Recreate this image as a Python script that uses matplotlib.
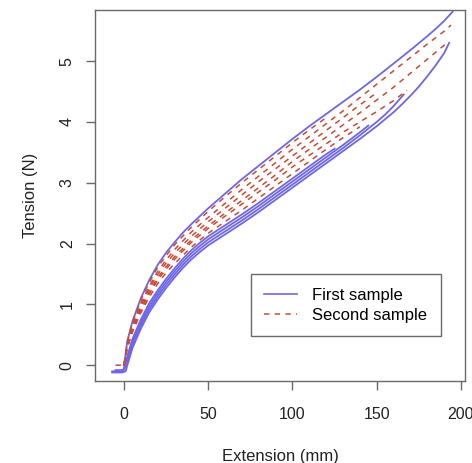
import matplotlib
matplotlib.use("Agg")
import matplotlib.pyplot as plt
from matplotlib.lines import Line2D

plt.rcParams['font.family'] = ['Liberation Sans', 'DejaVu Sans']

# ---- First sample (blue, solid) ----
b_up_x = [-7, -1, 0, 1, 2, 5, 10, 15, 20, 25, 30, 35, 40, 50, 60, 70, 80, 90, 100, 110, 120, 130, 140, 150, 160, 170, 180, 185, 190, 195]
b_up_y = [-0.1, -0.1, -0.05, 0.2, 0.4, 0.72, 1.1, 1.4, 1.65, 1.85, 2.02, 2.18, 2.32, 2.58, 2.82, 3.06, 3.28, 3.5, 3.72, 3.93, 4.13, 4.33, 4.53, 4.74, 4.96, 5.18, 5.41, 5.53, 5.66, 5.81]

b_lo1_x = [-7, -1, 1, 2, 5, 10, 15, 20, 25, 30, 35, 40, 45, 50, 60, 70, 80, 90, 100, 110, 120, 130, 140, 150, 160, 165, 170, 175, 180, 185, 190, 193]
b_lo1_y = [-0.12, -0.12, -0.1, 0.0, 0.28, 0.6, 0.87, 1.08, 1.27, 1.44, 1.6, 1.74, 1.86, 1.97, 2.15, 2.33, 2.52, 2.72, 2.92, 3.12, 3.32, 3.52, 3.72, 3.93, 4.16, 4.29, 4.43, 4.58, 4.75, 4.93, 5.13, 5.3]

b_lo2_x = [-5, 0, 2, 5, 10, 15, 20, 25, 30, 35, 40, 45, 50, 60, 70, 80, 90, 100, 110, 120, 130, 140, 150, 155, 160, 166]
b_lo2_y = [-0.08, -0.08, 0.05, 0.33, 0.65, 0.92, 1.13, 1.32, 1.49, 1.65, 1.79, 1.91, 2.02, 2.2, 2.38, 2.57, 2.77, 2.97, 3.17, 3.37, 3.57, 3.78, 4.0, 4.12, 4.26, 4.45]

b_lo3_x = [0, 2, 5, 10, 15, 20, 25, 30, 35, 40, 45, 50, 60, 70, 80, 90, 100, 110, 120, 130, 140, 145]
b_lo3_y = [0, 0.1, 0.38, 0.7, 0.97, 1.18, 1.37, 1.54, 1.7, 1.84, 1.96, 2.07, 2.25, 2.43, 2.62, 2.82, 3.02, 3.22, 3.42, 3.62, 3.83, 3.94]

b_lo4_x = [0, 2, 5, 10, 15, 20, 25, 30, 35, 40, 45, 50, 60, 70, 80, 90, 100, 110, 120, 125]
b_lo4_y = [0, 0.15, 0.43, 0.75, 1.02, 1.23, 1.42, 1.59, 1.75, 1.89, 2.01, 2.12, 2.3, 2.48, 2.67, 2.87, 3.07, 3.27, 3.47, 3.56]

# ---- Second sample (red, dashed) ----
r1_x = [-5, 0, 2, 5, 10, 15, 20, 25, 30, 40, 50, 60, 70, 80, 90, 100, 110, 120]
r1_y = [0, 0, 0.38, 0.7, 1.07, 1.36, 1.61, 1.8, 1.98, 2.27, 2.53, 2.77, 3.0, 3.22, 3.44, 3.66, 3.87, 4.07]

r2_x = [0, 2, 5, 10, 15, 20, 25, 30, 40, 50, 60, 70, 80, 90, 100, 110, 120, 130, 140, 150, 160, 170, 180, 190, 194]
r2_y = [0, 0.36, 0.66, 1.02, 1.3, 1.54, 1.73, 1.9, 2.19, 2.43, 2.66, 2.89, 3.11, 3.33, 3.55, 3.76, 3.97, 4.18, 4.4, 4.62, 4.84, 5.06, 5.28, 5.49, 5.59]

r3_x = [0, 2, 5, 10, 15, 20, 25, 30, 40, 50, 60, 70, 80, 90, 100, 110, 120, 130, 140, 150]
r3_y = [0, 0.34, 0.63, 0.98, 1.26, 1.49, 1.68, 1.84, 2.12, 2.36, 2.58, 2.8, 3.02, 3.23, 3.44, 3.65, 3.86, 4.07, 4.28, 4.48]

r4_x = [0, 2, 5, 10, 15, 20, 25, 30, 40, 50, 60, 70, 80, 90, 100, 110, 120, 130, 140, 150, 160, 170, 180, 190, 193]
r4_y = [0, 0.32, 0.6, 0.94, 1.21, 1.44, 1.62, 1.78, 2.06, 2.29, 2.5, 2.71, 2.92, 3.13, 3.35, 3.55, 3.75, 3.95, 4.15, 4.36, 4.57, 4.8, 5.03, 5.26, 5.3]

r5_x = [0, 2, 5, 10, 15, 20, 25, 30, 40, 50, 60, 70, 80, 90, 100, 110, 120, 130, 140, 150, 160, 168]
r5_y = [0, 0.3, 0.57, 0.9, 1.17, 1.4, 1.58, 1.74, 2.02, 2.25, 2.45, 2.65, 2.85, 3.05, 3.26, 3.45, 3.64, 3.83, 4.0, 4.17, 4.35, 4.52]

r6_x = [0, 2, 5, 10, 15, 20, 25, 30, 40, 50, 60, 70, 80, 90, 100, 110, 120, 130, 140]
r6_y = [0, 0.28, 0.54, 0.86, 1.12, 1.34, 1.52, 1.67, 1.94, 2.17, 2.36, 2.55, 2.75, 2.95, 3.15, 3.35, 3.55, 3.74, 3.92]

blue_curves = [(b_up_x, b_up_y), (b_lo1_x, b_lo1_y), (b_lo2_x, b_lo2_y),
               (b_lo3_x, b_lo3_y), (b_lo4_x, b_lo4_y)]
red_curves = [(r1_x, r1_y), (r2_x, r2_y), (r3_x, r3_y),
              (r4_x, r4_y), (r5_x, r5_y), (r6_x, r6_y)]

x_ticks = [0, 50, 100, 150, 200]
y_ticks = [0, 1, 2, 3, 4, 5]
legend_labels = ["First sample", "Second sample"]

BLUE = "#6e66ea"
RED = "#cc4a33"
GRAY = "#6a6a6a"

fig = plt.figure(figsize=(4.72, 4.63), dpi=100)
ax = fig.add_axes([95 / 472, 1 - 381 / 463, (465 - 95) / 472, (381 - 10) / 463])

for xs, ys in blue_curves:
    ax.plot(xs, ys, color=BLUE, lw=1.3, solid_joinstyle='round')
for xs, ys in red_curves:
    ax.plot(xs, ys, color=RED, lw=1.1, linestyle=(0, (3.5, 3.5)))

ax.set_xlim(-17.2, 202.4)
ax.set_ylim(-0.26, 5.84)
ax.set_xticks(x_ticks)
ax.set_yticks(y_ticks)
ax.set_xticklabels([str(v) for v in x_ticks])
ax.set_yticklabels([str(v) for v in y_ticks], rotation=90, va='center')
for s in ax.spines.values():
    s.set_color(GRAY)
    s.set_linewidth(1.0)
ax.tick_params(axis='both', length=6.5, width=1.0, color=GRAY, labelsize=11.5,
               labelcolor='#222222')
ax.tick_params(axis='x', pad=12)
ax.tick_params(axis='y', pad=8)

ax.set_xlabel("Extension (mm)", fontsize=12, color='#222222', labelpad=20)
ax.set_ylabel("Tension (N)", fontsize=12, color='#222222', labelpad=16)

handles = [Line2D([], [], color=BLUE, lw=1.2),
           Line2D([], [], color=RED, lw=1.1, linestyle=(0, (3.5, 3.5)))]
leg = ax.legend(handles, legend_labels, loc='upper left',
                bbox_to_anchor=(250.7 / 472, 1 - 274.3 / 463),
                bbox_transform=fig.transFigure, fontsize=12,
                frameon=True, fancybox=False, framealpha=1,
                edgecolor=GRAY, handlelength=2.0, handletextpad=0.9,
                borderpad=0.8, labelspacing=0.3, borderaxespad=0)
leg.get_frame().set_linewidth(1.0)

fig.savefig("out.png", dpi=100)
